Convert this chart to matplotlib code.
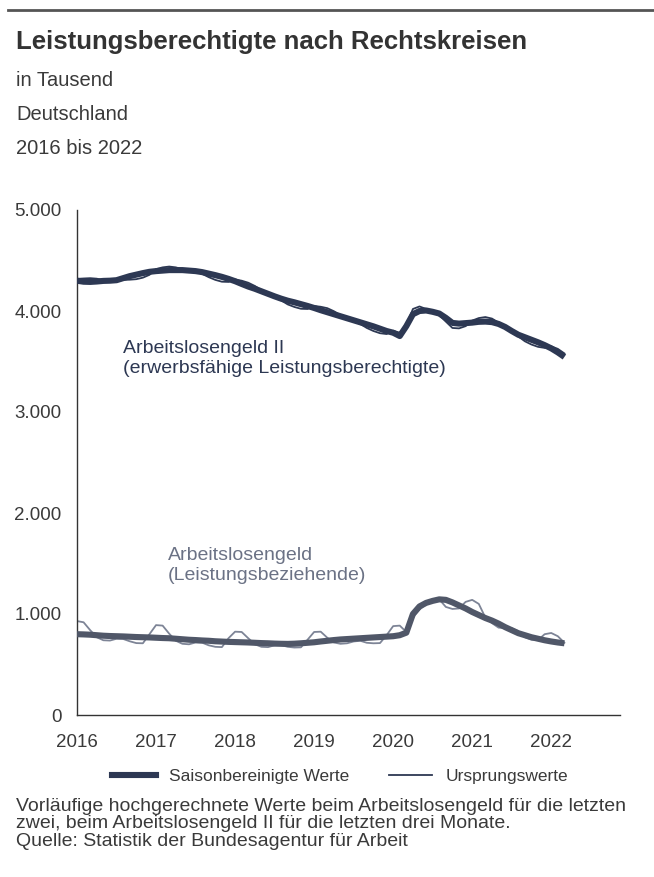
import matplotlib
matplotlib.use("Agg")
import matplotlib.pyplot as plt
from matplotlib.lines import Line2D
from matplotlib.ticker import FuncFormatter

plt.rcParams["font.family"] = ["Liberation Sans", "DejaVu Sans"]

# monthly values, Jan 2016 .. Mar 2022, in thousand
years = [2016, 2017, 2018, 2019, 2020, 2021, 2022]

alg2_sa = [
    4300, 4290, 4288, 4292, 4298, 4300, 4305, 4325, 4345, 4360, 4375, 4388,
    4395, 4400, 4405, 4405, 4405, 4400, 4395, 4385, 4370, 4355, 4338, 4318,
    4295, 4268, 4242, 4220, 4195, 4170, 4145, 4122, 4102, 4086, 4068, 4050,
    4030, 4008, 3988, 3968, 3948, 3928, 3908, 3888, 3868, 3848, 3825, 3802,
    3785, 3752, 3850, 3968, 4000, 4005, 3992, 3975, 3932, 3882, 3875, 3880,
    3885, 3893, 3895, 3890, 3872, 3842, 3802, 3765, 3740, 3715, 3690, 3662,
    3630, 3590, 3545,
]
alg2_orig = [
    4318, 4322, 4325, 4320, 4305, 4295, 4298, 4308, 4310, 4315, 4330, 4358,
    4415, 4432, 4440, 4432, 4413, 4395, 4388, 4368, 4335, 4308, 4290, 4288,
    4312, 4300, 4280, 4248, 4205, 4165, 4140, 4105, 4065, 4040, 4022, 4020,
    4050, 4042, 4028, 3998, 3958, 3922, 3902, 3872, 3832, 3802, 3780, 3772,
    3805, 3785, 3860, 4020, 4045, 4020, 3990, 3958, 3895, 3832, 3828, 3850,
    3905, 3930, 3940, 3925, 3885, 3840, 3798, 3748, 3700, 3668, 3645, 3635,
    3650, 3625, 3580,
]
alg1_sa = [
    800, 798, 795, 790, 785, 782, 780, 778, 775, 772, 770, 768,
    765, 762, 760, 755, 750, 745, 742, 738, 735, 730, 727, 724,
    722, 720, 718, 715, 712, 710, 707, 705, 704, 706, 710, 715,
    720, 728, 735, 742, 748, 752, 756, 760, 764, 768, 772, 776,
    780, 790, 815, 1000, 1075, 1110, 1130, 1145, 1140, 1115, 1085, 1055,
    1020, 990, 960, 935, 905, 870, 840, 810, 790, 770, 755, 740,
    728, 718, 710,
]
alg1_orig = [
    930, 918, 840, 770, 740, 737, 755, 753, 730, 712, 710, 800,
    890, 885, 805, 735, 705, 700, 718, 716, 690, 675, 672, 760,
    825, 822, 760, 700, 675, 672, 690, 692, 675, 668, 670, 745,
    822, 825, 765, 718, 705, 710, 728, 735, 715, 710, 712, 790,
    880, 885, 822, 965, 1045, 1095, 1140, 1145, 1070, 1050, 1055, 1120,
    1140, 1100, 965, 910, 865, 860, 860, 830, 770, 745, 742, 800,
    812, 780, 715,
]
dates = [2016 + i / 12 for i in range(len(alg2_sa))]
y_ticks = [0, 1000, 2000, 3000, 4000, 5000]

NAVY = "#2d3853"
GREY = "#505768"
LIGHT = "#7d8496"
TEXT = "#3a3a3a"

fig = plt.figure(figsize=(6.54, 8.77), dpi=100)
ax = fig.add_axes([77 / 654, 1 - 715 / 877, (620 - 77) / 654, (715 - 210) / 877])

ax.plot(dates, alg1_orig, color=LIGHT, lw=1.3, zorder=2)
ax.plot(dates, alg1_sa, color=GREY, lw=4.4, solid_capstyle="butt", zorder=3)
ax.plot(dates, alg2_orig, color=NAVY, lw=1.3, zorder=2)
ax.plot(dates, alg2_sa, color=NAVY, lw=4.4, solid_capstyle="butt", zorder=3)

ax.set_xlim(2016, 2022.87)
ax.set_ylim(0, 5000)
ax.set_xticks(years)
ax.set_yticks(y_ticks)
ax.yaxis.set_major_formatter(FuncFormatter(lambda v, p: f"{int(v):,}".replace(",", ".")))
ax.tick_params(length=0, labelsize=13.5, colors=TEXT)
ax.tick_params(axis="x", pad=14)
ax.tick_params(axis="y", pad=11)
for side in ["top", "right"]:
    ax.spines[side].set_visible(False)
for side in ["left", "bottom"]:
    ax.spines[side].set_color("#333333")
    ax.spines[side].set_linewidth(1.0)

ax.text(2016.58, 3530, "Arbeitslosengeld II\n(erwerbsfähige Leistungsberechtigte)",
        color=NAVY, fontsize=14, va="center", linespacing=1.3)
ax.text(2017.15, 1480, "Arbeitslosengeld\n(Leistungsbeziehende)",
        color="#6b7285", fontsize=14, va="center", linespacing=1.3)

# header
fig.add_artist(Line2D([8 / 654, 1], [1 - 10 / 877] * 2, color="#555555", lw=2))
fig.text(16 / 654, 1 - 42 / 877, "Leistungsberechtigte nach Rechtskreisen",
         fontsize=18.5, fontweight="bold", color="#333333", va="center")
for i, line in enumerate(["in Tausend", "Deutschland", "2016 bis 2022"]):
    fig.text(16 / 654, 1 - (80 + 34.5 * i) / 877, line, fontsize=14.5, color=TEXT, va="center")

handles = [
    Line2D([], [], color=NAVY, lw=4.4),
    Line2D([], [], color=NAVY, lw=1.3),
]
fig.legend(handles, ["Saisonbereinigte Werte", "Ursprungswerte"],
           loc="center", bbox_to_anchor=(340 / 654, 1 - 776 / 877), ncol=2,
           frameon=False, fontsize=12.5, handlelength=2.5, columnspacing=2.3,
           handletextpad=0.75, labelcolor=TEXT, borderpad=0)

fig.text(16 / 654, 1 - 798 / 877,
         "Vorläufige hochgerechnete Werte beim Arbeitslosengeld für die letzten\n"
         "zwei, beim Arbeitslosengeld II für die letzten drei Monate.\n"
         "Quelle: Statistik der Bundesagentur für Arbeit",
         fontsize=14, color=TEXT, va="top", linespacing=1.02)

fig.savefig("out.png", dpi=100)
